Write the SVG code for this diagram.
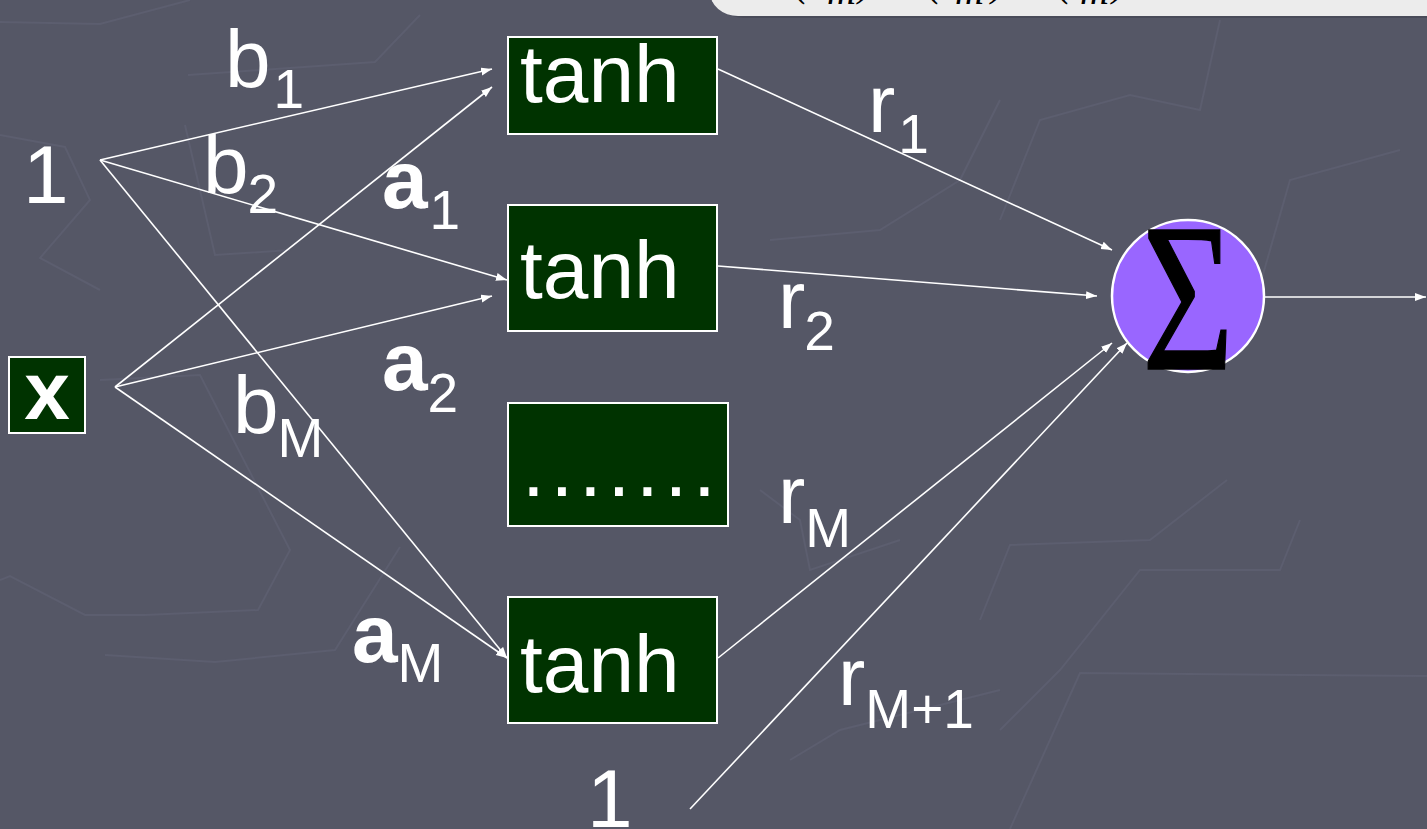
<svg xmlns="http://www.w3.org/2000/svg" width="1427" height="829" viewBox="0 0 1427 829">
<style>
.lbl{font-family:"Liberation Sans",Arial,sans-serif;fill:#fff;font-size:82px}
.sub{font-size:55px}
.bold{font-weight:bold}
.box{fill:#003300;stroke:#fff;stroke-width:2}
.con{stroke:#fff;stroke-width:1.6;fill:none;marker-end:url(#ah)}
.bg{stroke:#606274;stroke-width:2;fill:none;opacity:0.6}
.math{font-family:"Liberation Serif","Times New Roman",serif;font-style:italic;font-size:40px;fill:#000}
</style>
<defs>
<marker id="ah" markerUnits="userSpaceOnUse" markerWidth="12" markerHeight="10" refX="11" refY="4" orient="auto">
<path d="M0,0 L11,4 L0,8 Z" fill="#fff"/>
</marker>
</defs>
<rect width="1427" height="829" fill="#555766"/>
<g id="background-deco">
<polyline class="bg" points="0,22 100,24 190,0"/>
<polyline class="bg" points="0,135 65,147 90,200 40,258 100,290"/>
<polyline class="bg" points="188,75 375,62 420,15"/>
<polyline class="bg" points="185,125 215,255 290,250"/>
<polyline class="bg" points="0,580 10,576 85,615 145,615 258,610 290,550 200,375 100,380"/>
<polyline class="bg" points="105,655 215,662 335,650 400,547"/>
<polyline class="bg" points="1000,220 1040,120 1130,95 1200,110 1220,20"/>
<polyline class="bg" points="1260,285 1290,180 1400,150"/>
<polyline class="bg" points="770,240 880,230 960,180 1000,100"/>
<polyline class="bg" points="760,490 800,520 810,570 900,540"/>
<polyline class="bg" points="980,620 1010,545 1150,540 1227,480"/>
<polyline class="bg" points="1000,730 1060,670 1140,570 1280,570 1300,520"/>
<polyline class="bg" points="1010,829 1080,673 1427,676"/>
<polyline class="bg" points="790,760 840,730 1000,690"/>
</g>
<g id="formula-box">
<rect x="716" y="-30" width="760" height="48" rx="28" fill="#3d3f4c" opacity="0.5"/>
<rect x="710" y="-32" width="760" height="48" rx="28" fill="#ececec"/>
<text class="math" x="795" y="-4">(</text>
<text class="math" x="827" y="4">m</text>
<text class="math" x="858" y="-4">)</text>
<text class="math" x="928" y="-4">(</text>
<text class="math" x="955" y="4">m</text>
<text class="math" x="991" y="-4">)</text>
<text class="math" x="1058" y="-4">(</text>
<text class="math" x="1080" y="4">m</text>
<text class="math" x="1112" y="-4">)</text>
</g>
<g id="connectors">
<line class="con" x1="100" y1="160" x2="492" y2="69"/>
<line class="con" x1="100" y1="160" x2="507" y2="280"/>
<line class="con" x1="100" y1="160" x2="507" y2="658"/>
<line class="con" x1="115" y1="387" x2="492" y2="87"/>
<line class="con" x1="115" y1="387" x2="492" y2="296"/>
<line class="con" x1="115" y1="387" x2="507" y2="658"/>
<line class="con" x1="718" y1="69" x2="1112" y2="250"/>
<line class="con" x1="718" y1="266" x2="1097" y2="296"/>
<line class="con" x1="718" y1="658" x2="1112" y2="343"/>
<line class="con" x1="690" y1="809" x2="1127" y2="343"/>
<line class="con" x1="1264" y1="297" x2="1426" y2="297"/>
</g>
<g id="input-one">
<text class="lbl" x="23" y="203">1</text>
</g>
<g id="input-x">
<rect class="box" x="9" y="357" width="76" height="76"/>
<text class="lbl bold" x="47" y="419" text-anchor="middle" font-size="86">x</text>
</g>
<g id="bias-one">
<text class="lbl" x="587" y="827">1</text>
</g>
<g id="tanh1">
<rect class="box" x="508" y="37" width="209" height="97"/>
<text class="lbl" x="520" y="102">tanh</text>
</g>
<g id="tanh2">
<rect class="box" x="508" y="205" width="209" height="126"/>
<text class="lbl" x="520" y="298">tanh</text>
</g>
<g id="dots">
<rect class="box" x="508" y="403" width="220" height="123"/>
<text class="lbl" x="522" y="496" letter-spacing="5.7">.......</text>
</g>
<g id="tanhM">
<rect class="box" x="508" y="597" width="209" height="126"/>
<text class="lbl" x="520" y="692">tanh</text>
</g>
<g id="sum">
<circle cx="1188" cy="296" r="76" fill="#9966ff" stroke="#fff" stroke-width="2.5"/>
<text x="1142" y="369" font-family="'Liberation Serif','Times New Roman',serif" font-size="212" fill="#000" stroke="#000" stroke-width="1.5" textLength="92" lengthAdjust="spacingAndGlyphs">Σ</text>
</g>
<g id="labels">
<text class="lbl" x="225" y="87">b<tspan class="sub" dx="3" dy="21">1</tspan></text>
<text class="lbl" x="203" y="193">b<tspan class="sub" dx="-1" dy="20">2</tspan></text>
<text class="lbl bold" x="382" y="208">a<tspan class="sub" font-weight="normal" dx="2" dy="21">1</tspan></text>
<text class="lbl bold" x="382" y="390">a<tspan class="sub" font-weight="normal" dx="0" dy="22">2</tspan></text>
<text class="lbl" x="233" y="433">b<tspan class="sub" dx="-1" dy="24">M</tspan></text>
<text class="lbl bold" x="352" y="662">a<tspan class="sub" font-weight="normal" dx="0" dy="20">M</tspan></text>
<text class="lbl" x="868" y="132">r<tspan class="sub" dx="3" dy="21">1</tspan></text>
<text class="lbl" x="778" y="328">r<tspan class="sub" dx="-1" dy="22">2</tspan></text>
<text class="lbl" x="778" y="523">r<tspan class="sub" dx="0" dy="24">M</tspan></text>
<text class="lbl" x="838" y="705">r<tspan class="sub" dx="0" dy="23">M+1</tspan></text>
</g>
</svg>
